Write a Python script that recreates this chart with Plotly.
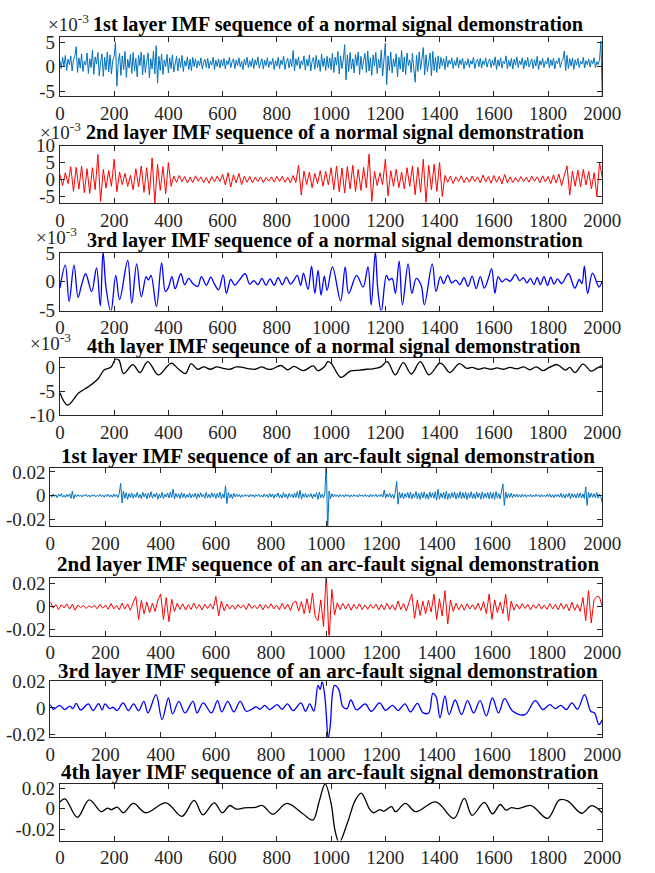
import numpy as np
import plotly.graph_objects as go

# ---------------- DATA ----------------
STEP_FINE = 5    # sample spacing of the 1st-layer series
STEP = 10        # sample spacing of the 2nd-layer series
x_ticks = [0, 200, 400, 600, 800, 1000, 1200, 1400, 1600, 1800, 2000]
x_ticktext = [str(v) for v in x_ticks]

titles = [
    "1st layer IMF sequence of a normal signal demonstration",
    "2nd layer IMF sequence of a normal signal demonstration",
    "3rd layer IMF sequence of a normal signal demonstration",
    "4th layer IMF seqeunce of a normal signal demonstration",
    "1st layer IMF sequence of an arc-fault signal demonstration",
    "2nd layer IMF sequence of an arc-fault signal demonstration",
    "3rd layer IMF sequence of an arc-fault signal demonstration",
    "4th layer IMF sequence of an arc-fault signal demonstration",
]

# normal signal, values in units of 1e-3
n1_vals = [
    1.2, -0.4, 1.9, 0.1, 2.3, -0.8, 1.5, 0.4, 2.2, -0.9, 1.4, 2.1, 4.1, -1.2, 1.8, -0.3, 2.6, -1.0, 1.1, 0.3,
    2.8, -1.4, 1.6, -0.2, 3.4, -1.6, 2.0, 0.5, 2.9, -1.9, 0.8, 2.6, -2.0, 1.9, -0.7, 3.0, -1.1, 2.4, -1.5, 1.3,
    2.1, 5.0, -4.0, 0.9, 2.7, -1.8, 2.2, -0.6, 3.1, -2.2, 1.5, -0.3, 2.5, -1.4, 2.9, -0.9, 1.7, -2.1, 2.3, 0.2,
    3.0, -1.7, 2.4, -1.2, 1.0, 2.8, -2.3, 1.6, -0.5, 3.2, -1.5, 4.3, -3.4, 2.1, -0.8, 2.6, -1.6, 1.4, 0.0, 2.5,
    -1.3, 1.8, -0.4, 2.4, -1.1, 0.6, 2.1, -0.9, 1.7, -0.2, 2.3, -1.0, 1.2, 0.1, 2.0, -0.6, 1.5, -0.8, 1.9, 0.0,
    1.6, -0.3, 1.2, 0.2, 1.8, -0.5, 0.9, 1.5, -0.2, 1.7, -0.4, 1.1, 0.3, 1.9, -0.6, 1.3, 0.0, 1.6, -0.3, 1.4,
    0.1, 1.7, -0.5, 1.2, 0.4, 1.9, -0.2, 1.0, 1.6, -0.4, 1.3, 0.2, 1.8, -0.1, 1.1, -0.6, 1.5, 0.3, 1.9, -0.2,
    1.2, 0.0, 1.7, -0.4, 1.4, 0.3, 2.0, -0.3, 0.9, 1.6, -0.5, 1.3, 0.2, 1.8, -0.2, 1.1, 0.4, 1.7, -0.6, 1.2,
    0.1, 1.9, -0.4, 1.3, 0.4, 2.1, -0.6, 1.0, 1.7, -0.3, 1.5, 0.0, 3.3, -0.9, 1.6, 0.2, 2.0, -0.5, 1.2, 0.3,
    2.2, -0.7, 1.5, 0.1, 2.4, -0.9, 1.1, 1.9, -0.6, 2.3, -0.2, 1.4, -1.0, 2.6, 0.0, 1.7, -0.8, 2.1, -0.3, 1.8,
    -0.6, 2.7, -1.2, 1.9, 0.3, 3.1, -1.5, 2.2, -0.4, 1.4, 4.5, -2.7, 2.4, -1.0, 2.9, -0.5, 1.6, -1.3, 2.5, 0.2,
    3.0, -1.6, 2.1, -0.6, 1.3, 2.7, -1.2, 3.2, -0.9, 1.8, -1.8, 2.4, 0.1, 2.9, -1.4, 1.5, -0.3, 3.4, -1.9, 2.0,
    4.8, -3.7, 2.2, -0.8, 3.0, -1.3, 1.6, 0.0, 2.6, -2.1, 1.9, -0.5, 3.3, -1.1, 2.0, -1.6, 2.8, 0.2, 1.4, -1.2,
    2.7, -0.4, -3.2, 2.3, -1.0, 3.0, -0.6, 1.7, 3.9, -1.7, 2.4, -1.0, 1.2, 2.8, -1.9, 3.1, -0.8, 1.9, -1.2, 2.2,
    -0.5, 1.9, 0.2, 1.6, -0.6, 2.1, -0.1, 1.3, 0.5, 1.8, -0.4, 1.2, 0.2, 1.9, -0.3, 1.4, 0.4, 1.7, -0.5, 1.1,
    0.3, 1.6, -0.2, 1.2, 0.5, 1.9, -0.4, 1.0, 1.5, 0.0, 1.7, -0.3, 1.2, 0.4, 1.8, -0.1, 1.0, 1.6, -0.2, 1.3,
    0.2, 2.0, -0.6, 1.4, 0.1, 1.8, -0.3, 1.1, 0.6, 2.2, -0.4, 1.3, 0.0, 1.7, -0.5, 1.5, 0.3, 2.0, -0.2, 1.2,
    0.4, 1.8, -0.5, 1.3, 0.2, 1.9, -0.1, 1.0, 1.6, -0.4, 1.4, 0.1, 2.1, -0.6, 1.2, 0.3, 1.7, -0.2, 1.1, 0.5,
    1.9, -0.3, 1.4, 0.2, 1.7, -0.5, 1.2, 0.6, 1.8, -0.2, 1.0, 1.5, 3.2, -0.8, 2.3, -0.4, 1.6, 0.1, 1.8, -0.6,
    1.4, 0.3, 1.7, -0.2, 1.1, 0.5, 1.9, -0.3, 1.2, 0.4, 1.6, -0.1, 1.3, 0.6, 1.8, -0.2, 1.0, 0.4, 1.5, 5.2,
    -6.5,
]
n2_vals = [
    1.5, -1.8, 2.0, -1.2, 3.8, -3.5, 3.6, -2.8, 4.0, -3.9, 3.2, -4.1, 3.5, -3.0, 7.4, -6.5, 3.0, -2.5, 2.6, -2.0,
    6.0, -3.6, 2.2, -1.5, 1.8, -2.0, 1.2, -3.0, 3.2, -2.2, 4.0, -3.8, 3.5, -4.5, 6.4, -7.0, 4.5, -3.2, 3.8, -4.2,
    5.0, -2.0, 1.0, -0.8, 1.2, -0.6, 0.9, -1.0, 0.7, -0.9, 1.1, -0.5, 0.8, -0.9, 0.6, -1.1, 0.9, -0.7, 1.0, -0.6,
    1.5, -1.6, 2.0, -2.2, 1.4, -1.0, 1.8, -1.5, 1.0, -0.8, 0.9, -1.0, 0.7, -0.6, 0.8, -0.9, 0.6, -0.5, 0.8, -0.7,
    0.9, -0.6, 1.0, -0.8, 0.7, -1.0, 1.2, -0.9, 4.2, -4.6, 2.5, -1.5, 2.2, -2.4, 1.8, -1.2, 2.6, -2.0, 2.4, -1.6,
    3.5, -3.0, 4.0, -3.6, 3.4, -4.0, 3.8, -2.8, 4.2, -3.5, 3.0, -3.2, 3.6, -2.5, 7.5, -6.5, 2.4, -1.8, 2.0, -1.5,
    6.0, -4.8, 2.6, -2.0, 3.0, -2.4, 2.2, -2.8, 3.5, -2.0, 4.0, -4.5, 3.6, -3.8, 6.0, -6.7, 4.2, -3.0, 4.5, -3.5,
    5.0, -5.0, 1.2, -0.8, 1.0, -1.2, 0.8, -0.6, 1.1, -0.9, 0.7, -0.8, 1.0, -0.6, 0.8, -1.0, 1.3, -0.7, 0.9, -1.1,
    1.2, -0.8, 0.9, -1.3, 1.5, -1.0, 0.8, -0.9, 0.6, -0.7, 0.9, -0.6, 0.7, -0.8, 1.0, -0.5, 0.8, -0.9, 1.1, -0.7,
    0.9, -1.2, 1.4, -1.0, 1.6, -1.8, 1.2, 4.0, -4.6, 2.5, -2.0, 2.8, -2.2, 3.0, -1.6, 2.4, -2.8, 2.0, -5.0, 5.0,
    0.5,
]
# smooth IMFs: extrema (sample index, value in 1e-3)
n3_idx = [0, 20, 34, 52, 67, 80, 95, 117, 135, 149, 159, 170, 188, 206, 220, 250, 265, 283, 300, 318, 326, 336, 356,
          375, 389, 400, 413, 425, 446, 460, 475, 490, 508, 522, 540, 556, 570, 585, 602, 614, 630, 645, 660, 683,
          700, 715, 730, 745, 760, 775, 790, 805, 820, 835, 850, 863, 875, 888, 898, 915, 928, 940, 952, 963, 975,
          985, 1005, 1035, 1052, 1065, 1094, 1118, 1136, 1148, 1163, 1172, 1185, 1204, 1214, 1225, 1237, 1251, 1263,
          1284, 1298, 1314, 1332, 1344, 1373, 1387, 1403, 1415, 1430, 1445, 1460, 1475, 1490, 1505, 1520, 1535, 1550,
          1565, 1578, 1592, 1604, 1616, 1630, 1645, 1660, 1680, 1695, 1710, 1722, 1735, 1748, 1760, 1772, 1785, 1798,
          1810, 1822, 1835, 1850, 1875, 1899, 1915, 1925, 1934, 1946, 1964, 1988, 2000]
n3_vals = [-1.1, 2.9, -3.4, 2.9, -2.7, -0.5, 1.4, -1.7, 2.4, -4.2, 5.2, -1.0, -5.2, 1.1, -3.1, 3.7, -3.7, 3.1, -2.6,
           0.9, 0.3, 1.1, -4.3, 3.3, -1.7, -1.0, 0.9, -1.2, 1.4, -0.5, 0.6, -0.3, -0.8, 0.9, -0.6, 0.8, -0.4, -1.4,
           1.2, -2.0, 0.4, -0.6, 0.2, 1.4, -0.4, 0.2, -0.5, 0.6, -0.6, 0.5, -0.6, 0.7, -0.5, 0.8, -0.4, 0.3, 1.1,
           -0.6, 1.5, -1.3, 2.7, -2.0, 2.0, -2.3, 1.0, -1.5, 2.6, -3.3, 2.6, -2.0, 1.1, -0.9, 2.6, -4.0, 5.2, -1.2,
           -5.2, 1.1, 0.3, 0.6, -2.0, 3.6, -4.0, 3.1, -2.0, 0.6, -0.6, -4.0, 3.1, -1.7, 0.9, -0.3, 1.1, -0.2, 0.3,
           -0.5, 0.7, -0.8, 1.0, -1.2, 0.9, -1.1, 0.3, 2.3, -2.0, 0.9, 0.0, 0.5, 0.1, 1.3, 0.2, 0.7, -0.2, 0.6,
           -0.5, 0.7, -0.5, 0.9, -0.6, 0.8, -0.4, 0.5, -0.3, 1.4, -1.1, 0.4, -0.3, 2.7, -2.0, 1.5, -0.9, 0.2]
n4_idx = [0, 28, 70, 105, 141, 164, 188, 206, 218, 235, 269, 295, 324, 363, 395, 405, 413, 440, 463, 484, 508, 530,
          555, 578, 602, 626, 650, 673, 697, 720, 744, 762, 780, 815, 840, 863, 898, 934, 951, 976, 988, 1000, 1036,
          1071, 1106, 1130, 1154, 1183, 1207, 1237, 1266, 1296, 1329, 1361, 1400, 1412, 1438, 1473, 1500, 1520,
          1544, 1565, 1590, 1612, 1635, 1660, 1685, 1710, 1733, 1757, 1781, 1805, 1834, 1864, 1880, 1899, 1929,
          1959, 1982, 2000]
n4_vals = [-5.3, -7.9, -5.3, -4.0, -2.3, -0.4, 0.1, 1.9, 1.6, -1.2, 0.7, -1.0, 1.3, -1.5, 0.3, 0.8, 1.0, -0.4, -1.2,
           0.9, -0.3, 0.2, -0.3, 0.2, -0.1, -0.3, 0.2, 0.1, -0.2, -0.3, 0.2, -0.2, -0.3, 0.5, -0.4, 0.3, -0.6, 0.4,
           -0.6, 0.3, 1.3, 1.0, -2.0, -0.7, -0.5, -0.3, -0.2, 0.2, 1.3, -1.5, 1.1, -1.3, 1.3, -1.5, 1.0, 0.7, -1.0,
           0.9, -0.1, 0.1, -0.3, 0.0, -0.3, 0.0, -0.3, 0.1, -0.2, 0.2, -0.4, 0.2, -0.6, 0.1, 0.7, -0.5, 0.1, -1.0,
           0.8, -0.7, 0.0, 0.5]

# arc-fault signal, values in units of 1e-3
a1_vals = [
    0.8, -1.2, 1.5, -0.6, 0.9, -1.6, 1.3, -0.4, 1.8, -1.1, 0.5, -1.4, 1.2, -0.7, 1.6, -2.2, 3.8, -2.4, 1.0, -0.8,
    1.1, -0.5, 0.7, -1.0, 0.9, -0.3, 1.2, -0.8, 0.6, -1.1, 0.8, -0.4, 1.0, -0.9, 0.5, -0.6, 1.3, -0.7, 0.8, -1.2,
    0.9, -0.6, 1.4, -1.0, 0.7, -1.3, 1.6, -0.8, 1.1, -1.5, 2.0, 10.5, -6.0, 4.0, -2.2, 2.6, -3.0, 1.8, -1.4, 2.4,
    -2.0, 1.5, -1.2, 2.8, -1.8, 1.2, -2.4, 3.0, -1.0, 1.9, -2.6, 2.2, -1.5, 3.4, -2.0, 1.6, -1.1, 2.5, -2.8, 1.4,
    -1.6, 2.9, -2.2, 1.3, -1.0, 2.4, -1.9, 3.2, -1.4, 5.6, -2.6, 2.0, -1.2, 1.6, -2.3, 2.7, -1.5, 1.9, -2.0, 1.1,
    -1.2, 2.3, -1.8, 1.5, -0.9, 2.1, -2.4, 1.7, -1.3, 2.6, -1.0, 1.4, -2.0, 2.8, -1.5, 1.2, -1.9, 2.5, -1.1, 1.8,
    -2.2, 2.0, -1.4, 3.0, -2.5, 1.6, -1.8, 8.5, -6.5, 2.8, -1.7, 1.3, -2.4, 2.2, -1.0, 1.5, -0.8, 1.1, -1.3, 0.7,
    -0.9, 1.2, -0.5, 0.8, -1.1, 1.4, -0.6, 0.9, -1.3, 1.0, -0.4, 1.3, -0.9, 0.6, -1.2, 1.5, -0.7, 1.1, -1.6, 1.8,
    -1.0, 1.6, -2.1, 1.2, -0.8, 2.4, -1.5, 1.0, -1.8, 2.7, -1.2, 1.5, -2.4, 1.9, -0.9, 1.3, -1.6, 2.2, -1.4, 3.5,
    -2.0, 4.6, -2.8, 1.7, -1.2, 2.0, -1.5, 1.1, -0.9, 1.8, -2.2, 1.4, -1.0, 2.6, -3.0, 3.2, -1.6, 1.2, -1.8, 2.4,
    30.0, -30.0, 4.0, -2.5, 1.8, -1.0, 1.2, -0.7, 0.9, -1.3, 1.1, -0.6, 0.8, -1.0, 1.3, -0.5, 0.9, -1.2, 0.7, -0.8,
    1.0, -0.6, 0.8, -1.1, 1.2, -0.4, 0.7, -0.9, 1.1, -0.7, 0.6, -1.0, 1.3, -0.8, 0.9, -0.5, 1.2, -1.1, 0.8, -0.6,
    1.4, -1.2, 4.8, -2.0, 1.6, -1.1, 2.0, -1.5, 1.2, -2.3, 2.8, 12.0, -7.0, 3.0, -1.9, 2.4, -2.6, 1.8, -1.3, 2.9,
    -2.1, 3.2, -2.6, 1.7, -1.5, 3.6, -2.4, 2.0, -3.0, 2.8, -1.8, 3.3, -2.2, 1.6, -2.9, 3.1, -1.4, 2.5, -2.0, 3.4,
    -3.6, 5.5, -2.8, 2.2, -1.6, 3.0, -2.5, 3.8, -3.0, 1.9, -2.2, 2.7, -1.5, 3.2, -2.7, 2.0, -1.8, 3.5, -2.4, 2.6,
    -2.0, 2.9, -3.1, 2.3, -1.7, 3.4, -2.1, 1.8, -2.6, 3.0, -1.5, 2.4, -2.9, 3.3, -2.2, 2.1, -1.6, 2.7, -2.5, 3.1,
    -2.3, 2.6, -3.0, 3.5, -2.0, 1.9, -2.6, 2.4, 10.0, -8.0, 3.2, -2.0, 1.8, -1.4, 2.2, -1.6, 1.3, -0.9, 1.5, -1.1,
    0.9, -1.2, 1.4, -0.7, 1.0, -1.3, 0.8, -0.6, 1.2, -1.0, 0.7, -0.9, 1.3, -0.5, 0.9, -1.1, 1.1, -0.8, 0.6, -1.0,
    1.2, -0.7, 1.5, -1.3, 0.9, -1.6, 1.4, -0.8, 1.1, -1.2, 2.0, -1.5, 1.3, -1.9, 1.6, -1.0, 2.2, -2.4, 1.8, -1.3,
    1.5, -1.8, 2.0, -1.4, 2.4, -1.9, 1.6, -2.2, 7.5, -8.0, 3.0, -1.6, 2.2, -1.3, 1.8, -1.5, 2.6, -1.9, 1.4, -1.0,
    -6.0,
]
a2_vals = [
    4.5, -1.2, 2.0, -2.4, 1.8, -1.0, 2.5, -2.0, 2.2, -3.0, 1.5, -0.8, 1.2, -1.5, 0.9, -0.6, 1.4, -1.8, 2.0, -1.2,
    1.6, -2.2, 2.8, -1.8, 1.2, -2.6, 3.2, -2.0, 2.5, -3.0, 3.6, 9.0, -11.0, 5.5, -6.0, 4.2, -5.0, 3.0, -4.0, 6.0,
    11.0, -11.0, 8.0, -13.0, 6.5, -4.0, 3.0, -2.2, 2.6, -2.8, 1.8, -2.4, 3.2, -1.6, 2.0, -2.8, 2.2, -1.5, 2.6, -2.0,
    9.0, -8.0, 5.0, -3.5, 2.4, -2.0, 1.5, -2.2, 2.0, -1.2, 1.6, -2.4, 2.8, -1.5, 1.2, -1.8, 2.2, -2.6, 1.8, -1.4,
    2.6, -1.8, 1.4, -2.5, 3.0, -2.0, 2.4, -3.2, 3.5, 5.0, -3.6, 4.5, -6.0, 7.0, -5.5, 12.0, -9.0, -12.0, 6.0, -17.0,
    30.0, -30.0, 15.0, -7.0, 3.5, -2.5, 3.0, -2.0, 2.6, -3.0, 2.2, -1.8, 2.6, -2.4, 1.6, -2.2, 2.0, -1.4, 2.4, -2.8,
    2.0, -2.6, 3.2, -2.2, 1.8, -3.0, 5.0, -2.4, 2.8, -3.5, 4.0, 11.0, -10.0, 6.0, -7.5, 4.8, -6.0, 5.5, -4.5, 11.0,
    -11.0, 7.0, -8.0, 14.0, -15.0, 6.0, -4.0, 3.0, -2.6, 2.2, -3.0, 2.6, -2.0, 1.8, -2.4, 3.0, -3.2, 4.5, -6.0, 11.0,
    -11.0, 6.0, -5.0, 4.0, -6.0, 11.0, -12.0, 5.0, -3.0, 2.4, -2.0, 2.8, -1.6, 2.2, -2.6, 1.8, -1.4, 2.6, -2.0, 1.6,
    -2.2, 2.8, -1.8, 2.0, -2.6, 3.0, -2.0, 2.4, -3.4, 4.0, -3.0, 2.2, -4.0, 8.0, -12.0, 14.0, -14.0, 6.0, 9.0, 8.5,
    0.0,
]
a3_idx = [0, 12, 34, 52, 71, 82, 94, 110, 138, 155, 175, 188, 198, 215, 228, 242, 264, 283, 302, 320, 339, 354, 383,
          405, 428, 443, 466, 488, 517, 532, 554, 584, 606, 621, 643, 665, 688, 710, 730, 745, 760, 777, 795, 822,
          840, 859, 880, 908, 925, 940, 955, 970, 978, 985, 994, 1000, 1007, 1015, 1022, 1030, 1045, 1060, 1075,
          1089, 1110, 1141, 1163, 1193, 1215, 1240, 1260, 1285, 1305, 1330, 1350, 1371, 1386, 1398, 1412, 1430,
          1445, 1467, 1490, 1512, 1534, 1557, 1580, 1602, 1624, 1646, 1676, 1720, 1757, 1785, 1810, 1830, 1850,
          1870, 1890, 1910, 1936, 1958, 1972, 1988, 2000]
a3_vals = [2.5, -1.0, 2.0, -1.2, 1.3, -0.5, 3.5, -1.5, 3.0, -2.0, 3.2, -1.5, 3.0, -0.5, 0.5, -2.0, 3.8, -2.0, 3.0,
           -2.2, 5.0, -3.8, 10.0, -8.8, 7.5, -4.5, 5.0, -3.8, 5.0, -3.8, 3.8, -3.8, 5.5, -3.0, 5.0, -3.0, 5.0, -2.5,
           -1.0, 0.8, -1.0, 2.0, -1.2, 2.5, -1.0, 3.0, -2.0, 3.8, -2.5, 3.0, -2.5, 17.0, 14.0, 20.0, 10.0, -5.0,
           -23.0, -12.0, 10.0, 17.0, 14.0, 1.0, -0.5, 6.0, -1.5, 3.0, -2.5, 3.8, -1.8, 2.0, -2.0, 3.0, -3.0, 3.5,
           -3.5, -3.8, 11.0, 8.5, -7.5, 9.0, -5.0, 6.0, -5.0, 5.5, -3.8, 5.5, -6.0, 7.5, -3.8, 7.0, -2.5, -5.0, 5.5,
           -1.2, 2.5, -0.5, 2.0, -1.2, 3.8, -1.0, 10.0, -2.5, -3.8, -12.5, -9.0]
a4_idx = [0, 19, 64, 108, 153, 175, 190, 212, 234, 271, 316, 391, 450, 495, 527, 569, 599, 626, 651, 680, 720, 747,
          785, 837, 896, 933, 955, 978, 1000, 1015, 1030, 1060, 1089, 1111, 1141, 1156, 1180, 1195, 1223, 1237,
          1274, 1312, 1386, 1453, 1491, 1520, 1565, 1595, 1624, 1645, 1665, 1690, 1738, 1798, 1842, 1872, 1924,
          1961, 2000]
a4_vals = [6.5, 9.5, -8.5, 8.5, -3.0, 0.5, -1.0, 1.5, -4.0, 5.0, -4.0, 5.5, -7.5, 8.0, -6.0, 5.5, -4.0, 3.0, -0.5,
           0.8, 1.2, 3.0, -5.5, 5.0, -5.0, -11.0, 6.0, 24.0, 5.0, -22.0, -33.0, -14.0, 8.0, 15.0, 0.0, -4.0, -1.0,
           -2.5, 2.0, -3.0, 5.0, -3.0, 6.5, -9.5, 10.0, -6.5, 6.0, -5.0, 4.0, -1.5, 1.0, 0.0, 3.0, -9.5, 8.5, 7.5,
           -4.5, 3.0, -4.0]

y_tickvals = [[-5, 0, 5], [-5, 0, 5, 10], [-5, 0, 5], [-10, -5, 0],
              [-0.02, 0, 0.02], [-0.02, 0, 0.02], [-0.02, 0, 0.02], [-0.02, 0, 0.02]]
y_ticktext = [["-5", "0", "5"], ["-5", "0", "5", "10"], ["-5", "0", "5"], ["-10", "-5", "0"],
              ["-0.02", "0", "0.02"], ["-0.02", "0", "0.02"], ["-0.02", "0", "0.02"], ["-0.02", "0", "0.02"]]
y_ranges = [[-6, 6], [-7, 10], [-5, 5], [-10, 2],
            [-0.0255, 0.0235], [-0.025, 0.025], [-0.022, 0.02], [-0.031, 0.024]]

# ---------------- build series ----------------
E3 = 1e-3
def regular(vals, step):
    return np.arange(len(vals)) * step, np.array(vals)

series = [
    (*regular(n1_vals, STEP_FINE), 1.0, "#0072BD", "linear", 1.0),
    (*regular(n2_vals, STEP), 1.0, "#FF0000", "linear", 1.0),
    (np.array(n3_idx), np.array(n3_vals), 1.0, "#0000FF", "spline", 1.3),
    (np.array(n4_idx), np.array(n4_vals), 1.0, "#000000", "spline", 1.3),
    (*regular(a1_vals, STEP_FINE), E3, "#0072BD", "linear", 1.0),
    (*regular(a2_vals, STEP), E3, "#FF0000", "linear", 1.0),
    (np.array(a3_idx), np.array(a3_vals), E3, "#0000FF", "spline", 1.3),
    (np.array(a4_idx), np.array(a4_vals), E3, "#000000", "spline", 1.3),
]

# ---------------- layout geometry (pixels) ----------------
W, H = 655, 873
boxes = [(57, 620, 28, 88), (57, 620, 139, 198), (57, 620, 249, 308), (57, 620, 357, 415),
         (47, 620, 469, 529), (47, 620, 582, 641), (47, 620, 688, 745), (57, 620, 793, 851)]
title_y = [15, 126, 236, 345, 457, 568, 677, 781]
title_x = [346, 343, 343, 341, 335, 335, 335, 337]
title_size = [20.2, 20.2, 20.2, 20.2, 21, 21, 21, 21]
exp_pos = [(43, 13), (34, 124), (30, 232), (24, 340)]

FONT = "Liberation Serif"
TXT = "#262626"

fig = go.Figure()
layout = dict(width=W, height=H, margin=dict(l=0, r=0, t=0, b=0),
              paper_bgcolor="white", plot_bgcolor="white", showlegend=False,
              font=dict(family=FONT, size=19, color=TXT))
annotations = []
for i, ((xs, ys, scale, color, shape, lw), (l, r, t, b)) in enumerate(zip(series, boxes)):
    k = "" if i == 0 else str(i + 1)
    fig.add_trace(go.Scatter(x=xs, y=ys * scale, mode="lines",
                             line=dict(color=color, width=lw, shape=shape,
                                       smoothing=1.0 if shape == "spline" else None),
                             xaxis="x" + k, yaxis="y" + k, hoverinfo="skip"))
    common = dict(showline=True, linecolor=TXT, linewidth=1, mirror="ticks", ticks="inside",
                  ticklen=5, tickcolor=TXT, showgrid=False, zeroline=False,
                  tickfont=dict(family=FONT, size=19, color=TXT))
    layout["xaxis" + k] = dict(common, domain=[l / W, r / W], range=[0, 2000],
                               tickvals=x_ticks, ticktext=x_ticktext, anchor="y" + k)
    layout["yaxis" + k] = dict(common, domain=[1 - b / H, 1 - t / H], range=y_ranges[i],
                               tickvals=y_tickvals[i], ticktext=y_ticktext[i], anchor="x" + k)
    annotations.append(dict(text="<b>" + titles[i] + "</b>", x=title_x[i] / W, y=1 - title_y[i] / H,
                            xref="paper", yref="paper", xanchor="center", yanchor="middle",
                            showarrow=False, font=dict(family=FONT, size=title_size[i], color="#000000")))
for (ex, ey) in exp_pos:
    annotations.append(dict(text="×10<sup>-3</sup>", x=ex / W, y=1 - ey / H, xref="paper", yref="paper",
                            xanchor="left", yanchor="middle", showarrow=False,
                            font=dict(family=FONT, size=19, color=TXT)))
layout["annotations"] = annotations
fig.update_layout(**layout)
fig.write_html("out.html")
